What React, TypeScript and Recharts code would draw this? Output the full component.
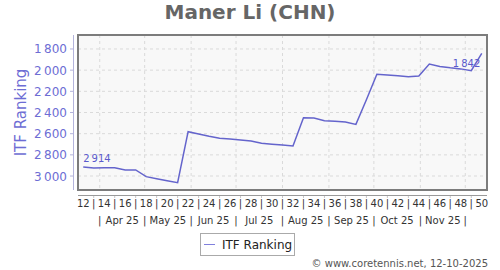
import {
  LineChart,
  Line,
  XAxis,
  YAxis,
  CartesianGrid,
  ReferenceArea,
  LabelList,
  Legend,
} from "recharts";

// ITF ranking, one value per week (week 12 .. week 50)
const weeks = [
  12, 13, 14, 15, 16, 17, 18, 19, 20, 21, 22, 23, 24, 25, 26, 27, 28, 29, 30, 31,
  32, 33, 34, 35, 36, 37, 38, 39, 40, 41, 42, 43, 44, 45, 46, 47, 48, 49, 50,
];
const ranks = [
  2914, 2924, 2922, 2921, 2943, 2943, 3006, 3025, 3045, 3063,
  2581, 2603, 2625, 2644, 2650, 2660, 2670, 2691, 2700, 2708, 2717,
  2449, 2452, 2477, 2483, 2490, 2512,
  2280,
  2039, 2046, 2054, 2062, 2055,
  1942, 1965, 1978, 1988, 2005, 1842,
];
const yTicks = [1800, 2000, 2200, 2400, 2600, 2800, 3000];
const monthLabels = ["Apr 25", "May 25", "Jun 25", "Jul 25", "Aug 25", "Sep 25", "Oct 25", "Nov 25"];
const monthStarts = [
  "2025-04-01", "2025-05-01", "2025-06-01", "2025-07-01", "2025-08-01",
  "2025-09-01", "2025-10-01", "2025-11-01", "2025-12-01",
];
const firstPointDate = "2025-03-21"; // date of the week 12 point

const DAY = 86400000;
const toWeek = (d: string) => weeks[0] + (Date.parse(d) - Date.parse(firstPointDate)) / (7 * DAY);
const monthBounds = monthStarts.map(toWeek);
const monthMids = monthLabels.map((_, i) => (monthBounds[i] + monthBounds[i + 1]) / 2);
const monthTicks = [...monthBounds, ...monthMids].sort((a, b) => a - b);

const data = weeks.map((w, i) => ({ week: w, rank: ranks[i] }));

const xDomain = [11.5, 50.5];
const yDomain = [1668, 3132];

const FONT = "DejaVu Sans, sans-serif";
const LINE = "#6464cc";
const AXIS_BLUE = "#6d6dd4";

const fmt = (v: number) => String(v).replace(/\B(?=(\d{3})+(?!\d))/g, "\u2009");

function YTick({ y, payload }: any) {
  return (
    <g>
      <line x1={70} x2={73} y1={y} y2={y} stroke="#b4b4dc" />
      <text x={67} y={y} dy={4.5} textAnchor="end" fontSize={12} fontFamily={FONT} fill={AXIS_BLUE}>
        {fmt(payload.value)}
      </text>
    </g>
  );
}

function WeekTick({ x, payload }: any) {
  const even = payload.value % 2 === 0;
  return (
    <g>
      {!even && <line x1={x} x2={x} y1={195} y2={198} stroke="#c8c8c8" />}
      <text x={x} y={207} textAnchor="middle" fontSize={10} fontFamily={FONT} fill="#333">
        {even ? payload.value : "|"}
      </text>
    </g>
  );
}

function MonthTick({ x, payload }: any) {
  const mi = monthMids.indexOf(payload.value);
  return (
    <text x={x} y={224} textAnchor="middle" fontSize={10} fontFamily={FONT} fill="#333">
      {mi >= 0 ? monthLabels[mi] : "|"}
    </text>
  );
}

function PointLabel({ x, y, value, index }: any) {
  const last = ranks.length - 1;
  if (index !== 0 && index !== last) return null;
  const isFirst = index === 0;
  return (
    <text
      x={isFirst ? x : x - 1.5}
      y={isFirst ? y - 5 : y + 14}
      textAnchor={isFirst ? "start" : "end"}
      fontSize={10}
      fontFamily={FONT}
      fill="#5a5acc"
    >
      {fmt(value)}
    </text>
  );
}

function LegendBox() {
  return (
    <div
      style={{
        boxSizing: "border-box",
        width: 95,
        height: 23,
        border: "1px solid #aaa",
        background: "#fff",
        display: "flex",
        alignItems: "center",
        fontFamily: FONT,
        fontSize: 12,
        color: "#222",
      }}
    >
      <span style={{ width: 11, borderTop: "1.5px solid #8080dd", marginLeft: 3, marginRight: 7 }} />
      ITF Ranking
    </div>
  );
}

export default function App() {
  return (
    <div style={{ position: "absolute", left: 0, top: 0, width: 500, height: 270, background: "#fff" }}>
      <LineChart width={500} height={270} data={data} margin={{ top: 35, right: 13, bottom: 42, left: 0 }}>
        <CartesianGrid
          fill="#f8f8f8"
          stroke="#dadada"
          strokeDasharray="3 3"
          horizontalValues={yTicks}
          verticalValues={monthBounds}
        />
        <XAxis
          dataKey="week"
          type="number"
          domain={xDomain}
          ticks={weeks}
          interval={0}
          height={18}
          axisLine={false}
          tickLine={false}
          tick={<WeekTick />}
          allowDataOverflow
        />
        <XAxis
          xAxisId="m"
          dataKey="week"
          type="number"
          domain={xDomain}
          ticks={monthTicks}
          interval={0}
          height={20}
          axisLine={false}
          tickLine={false}
          tick={<MonthTick />}
          allowDataOverflow
        />
        <YAxis
          type="number"
          domain={yDomain}
          reversed
          ticks={yTicks}
          interval={0}
          width={78}
          axisLine={false}
          tickLine={false}
          tick={<YTick />}
          allowDataOverflow
        />
        <ReferenceArea
          x1={xDomain[0]}
          x2={xDomain[1]}
          y1={yDomain[0]}
          y2={yDomain[1]}
          fill="none"
          stroke="#7c7c7c"
          strokeWidth={2}
        />
        <Line
          dataKey="rank"
          type="linear"
          stroke={LINE}
          strokeWidth={1.5}
          dot={false}
          isAnimationActive={false}
          name="ITF Ranking"
        >
          <LabelList dataKey="rank" content={<PointLabel />} />
        </Line>
        <Legend
          layout="vertical"
          align="center"
          verticalAlign="middle"
          wrapperStyle={{ position: "absolute", left: 200, top: 233, width: 95, height: 23 }}
          content={() => <LegendBox />}
        />
      </LineChart>
      <svg
        width={500}
        height={270}
        style={{ position: "absolute", left: 0, top: 0, pointerEvents: "none" }}
        fontFamily={FONT}
      >
        <text x={250} y={19} textAnchor="middle" fontSize={20} fontWeight="bold" fill="#666">
          Maner Li (CHN)
        </text>
        <text transform="translate(26,112.5) rotate(-90)" textAnchor="middle" fontSize={15} fill={AXIS_BLUE}>
          ITF Ranking
        </text>
        <line x1={73.5} x2={73.5} y1={35} y2={190} stroke="#b4b4dc" />
        <line x1={78} x2={487} y1={195.5} y2={195.5} stroke="#999" />
        <text x={488} y={267} textAnchor="end" fontSize={10} fill="#555">
          © www.coretennis.net, 12-10-2025
        </text>
      </svg>
    </div>
  );
}
